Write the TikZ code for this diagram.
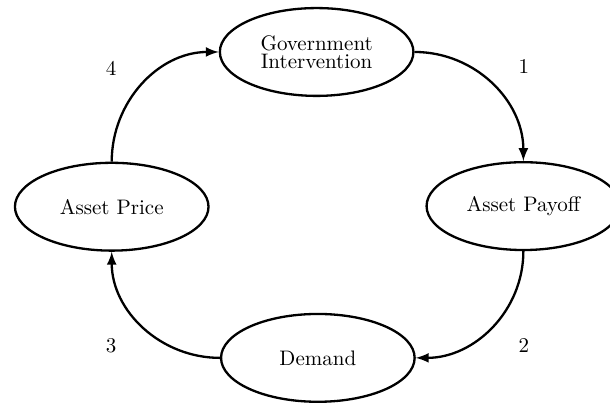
\documentclass[tikz,border=0pt]{standalone}
\usepackage{amsmath,amssymb}
\usepackage{tikz}
\usetikzlibrary{arrows,shapes}

\begin{document}
\begin{tikzpicture}[auto]
          \tikzstyle{arrow} = [draw, -latex, line width=1.1pt]
          \tikzstyle{stage} = [ellipse, draw, line width=1.1pt, text centered,
                               minimum width=3.24cm, minimum height=1.47cm, inner sep=0pt]

          \useasboundingbox (0,0) rectangle (10.21,-6.76);

          \node[stage, align=center] (intervention) at (5.30,-0.87)
            {Government\\[-3.2pt] Intervention};
            \node[stage] (payoff) at (8.76,-3.45) {Asset Payoff};
            \node[stage] (demand) at (5.32,-5.99) {Demand};
            \node[stage] (price) at (1.87,-3.46) {Asset Price};

            % step numbers round the loop
            \node (one) at (8.77,-1.12) {1};
            \node (two) at (8.77,-5.78) {2};
            \node (three) at (1.86,-5.78) {3};
            \node (four) at (1.86,-1.14) {4};

          \path[arrow] (intervention.east) to[out=0, in=90] (payoff.north);
          \path[arrow] (payoff.south) to[out=-90, in=0] (demand.east);
          \path[arrow] (demand.west) to[out=180, in=-90] (price.south);
          \path[arrow] (price.north) to[out=90, in=180] (intervention.west);
        \end{tikzpicture}
\end{document}
